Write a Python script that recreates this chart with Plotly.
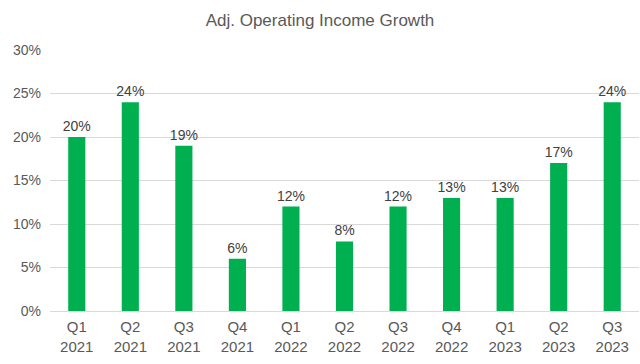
import plotly.graph_objects as go

quarters = ["Q1", "Q2", "Q3", "Q4", "Q1", "Q2", "Q3", "Q4", "Q1", "Q2", "Q3"]
years = ["2021", "2021", "2021", "2021", "2022", "2022", "2022", "2022", "2023", "2023", "2023"]
growth = [20, 24, 19, 6, 12, 8, 12, 13, 13, 17, 24]
y_ticks = [0, 5, 10, 15, 20, 25, 30]

categories = [f"{q}<br>{y}" for q, y in zip(quarters, years)]
labels = [f"{v}%" for v in growth]

fig = go.Figure(go.Bar(
    x=categories, y=growth, text=labels, textposition="outside",
    textfont=dict(size=14, color="#404040"),
    constraintext="none",
    marker=dict(color="#00B050", line=dict(width=0)),
    cliponaxis=False,
))
fig.update_layout(
    width=640, height=364,
    margin=dict(l=50, r=1, t=50, b=53),
    paper_bgcolor="white", plot_bgcolor="white",
    font=dict(family="Liberation Sans, Arial, sans-serif", color="#595959", size=14),
    title=dict(text="Adj. Operating Income Growth", x=0.5, xanchor="center", y=0.945, yanchor="middle",
               font=dict(size=17, color="#595959")),
    bargap=0.68,
    showlegend=False,
    xaxis=dict(type="category", showline=True, linecolor="#D9D9D9", linewidth=1, ticks="",
               ticklabelstandoff=2,
               tickfont=dict(size=15, color="#595959")),
    yaxis=dict(range=[0, 30], tickvals=y_ticks, ticktext=[f"{t}%" for t in y_ticks],
               showgrid=True, gridcolor="#D9D9D9", gridwidth=1, zeroline=False,
               ticks="", ticklabelstandoff=8,
               tickfont=dict(size=14, color="#595959")),
)
fig.write_html("out.html", config={"displayModeBar": False},
               post_script="document.body.style.margin='0';")
